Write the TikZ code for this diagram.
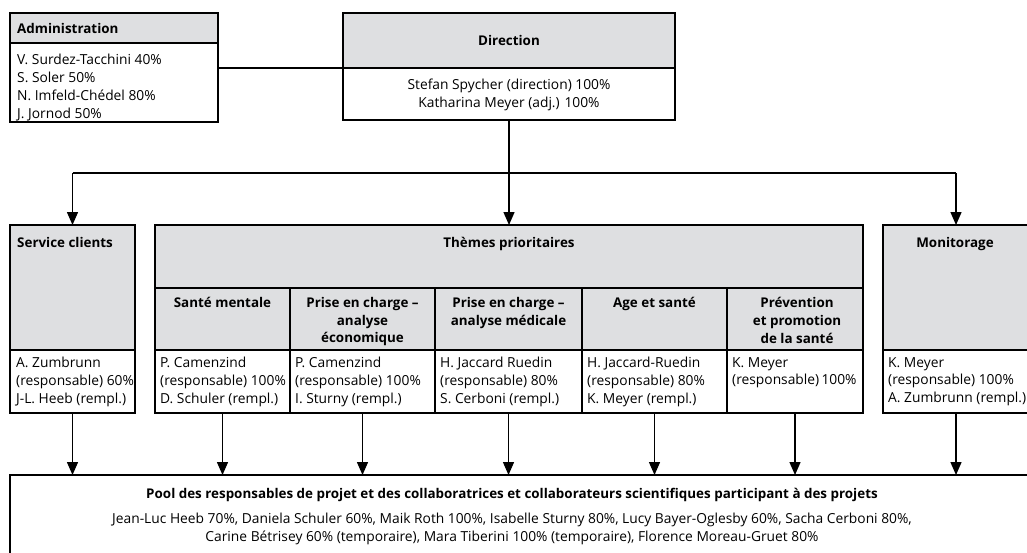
\documentclass[tikz,border=0pt]{standalone}
\usepackage{fontspec}
\setmainfont{Open Sans}
\usetikzlibrary{arrows.meta}
\definecolor{hdr}{RGB}{222,223,225}
\begin{document}
\begin{tikzpicture}[x=1pt,y=-1pt,
  box/.style={draw, line width=1.4pt, inner sep=0pt, outer sep=0pt, anchor=north west},
  hbox/.style={box, fill=hdr},
  wbox/.style={box, fill=white},
  ttl/.style={font=\fontsize{13.4}{17.8}\selectfont\bfseries, inner sep=0pt},
  txt/.style={font=\fontsize{13.8}{17.8}\selectfont, inner sep=0pt},
  arr/.style={line width=1.4pt, -{Triangle[length=13pt,width=11pt]}},
  ln/.style={line width=1.4pt}]
\useasboundingbox (0,0) rectangle (1027,552);
\clip (0,0) rectangle (1027,552);
% Administration
\node[hbox, minimum width=208, minimum height=30] (admh) at (10,13) {};
\node[wbox, minimum width=208, minimum height=79] (admb) at (10,43) {};
\node[ttl, anchor=west] (admt) at (17,28) {Administration};
\node[txt, anchor=north west, align=left] (admx) at (17,54) {V. Surdez-Tacchini 40\%\\S. Soler 50\%\\N. Imfeld-Chédel 80\%\\J. Jornod 50\%};
% Direction
\node[hbox, minimum width=332, minimum height=55] (dirh) at (343,13) {};
\node[wbox, minimum width=332, minimum height=52] (dirb) at (343,68) {};
\node[ttl] (dirt) at (dirh.center) {Direction};
\node[txt, anchor=north, align=center] (dirx) at (509,79) {Stefan Spycher (direction) 100\%\\Katharina Meyer (adj.) 100\%};
% Service clients
\node[hbox, minimum width=125, minimum height=125] (svch) at (10,225) {};
\node[wbox, minimum width=125, minimum height=63] (svcb) at (10,350) {};
\node[ttl, anchor=base west] (svct) at (17,247) {Service clients};
\node[txt, anchor=north west, align=left] (svcx) at (16,357) {A. Zumbrunn\\(responsable) 60\%\\J-L. Heeb (rempl.)};
% Themes prioritaires
\node[hbox, minimum width=708, minimum height=63] (themh) at (155,225) {};
\node[ttl, anchor=base] (themt) at (509,247) {Thèmes prioritaires};
\node[hbox, minimum width=135, minimum height=62] (smh) at (155,288) {};
\node[hbox, minimum width=145, minimum height=62] (ecoh) at (290,288) {};
\node[hbox, minimum width=147, minimum height=62] (medh) at (435,288) {};
\node[hbox, minimum width=145, minimum height=62] (ageh) at (582,288) {};
\node[hbox, minimum width=136, minimum height=62] (prevh) at (727,288) {};
\node[wbox, minimum width=135, minimum height=63] (smb) at (155,350) {};
\node[wbox, minimum width=145, minimum height=63] (ecob) at (290,350) {};
\node[wbox, minimum width=147, minimum height=63] (medb) at (435,350) {};
\node[wbox, minimum width=145, minimum height=63] (ageb) at (582,350) {};
\node[wbox, minimum width=136, minimum height=63] (prevb) at (727,350) {};
\node[ttl, anchor=north, align=center] (smt) at (smh.north |- 0,297) {Santé mentale};
\node[ttl, anchor=north, align=center] (ecot) at (ecoh.north |- 0,297) {Prise en charge –\\analyse\\économique};
\node[ttl, anchor=north, align=center] (medt) at (medh.north |- 0,297) {Prise en charge –\\analyse médicale};
\node[ttl, anchor=north, align=center] (aget) at (ageh.north |- 0,297) {Age et santé};
\node[ttl, anchor=north, align=center] (prevt) at ([xshift=2]prevh.north |- 0,297) {Prévention\\et promotion\\de la santé};
\node[txt, anchor=north west, align=left] (smx) at (160,357) {P. Camenzind\\(responsable) 100\%\\D. Schuler (rempl.)};
\node[txt, anchor=north west, align=left] (ecox) at (295,357) {P. Camenzind\\(responsable) 100\%\\I. Sturny (rempl.)};
\node[txt, anchor=north west, align=left] (medx) at (440,357) {H. Jaccard Ruedin\\(responsable) 80\%\\S. Cerboni (rempl.)};
\node[txt, anchor=north west, align=left] (agex) at (587,357) {H. Jaccard-Ruedin\\(responsable) 80\%\\K. Meyer (rempl.)};
\node[txt, anchor=north west, align=left] (prevx) at (732,357) {K. Meyer\\(responsable)\,100\%};
% Monitorage
\node[hbox, minimum width=146, minimum height=125] (monh) at (883,225) {};
\node[wbox, minimum width=146, minimum height=63] (monb) at (883,350) {};
\node[ttl, anchor=base] (mont) at (955,247) {Monitorage};
\node[txt, anchor=north west, align=left] (monx) at (888,357) {K. Meyer\\(responsable) 100\%\\A. Zumbrunn (rempl.)};
% Pool
\node[wbox, minimum width=1019, minimum height=90] (pool) at (10,475) {};
\node[ttl, anchor=base] (poolt) at (512,498) {Pool des responsables de projet et des collaboratrices et collaborateurs scientifiques participant à des projets};
\node[txt, anchor=north, align=center] (poolx) at (512,513) {Jean-Luc Heeb 70\%, Daniela Schuler 60\%, Maik Roth 100\%, Isabelle Sturny 80\%, Lucy Bayer-Oglesby 60\%, Sacha Cerboni 80\%,\\Carine Bétrisey 60\% (temporaire), Mara Tiberini 100\% (temporaire), Florence Moreau-Gruet 80\%};
% Connectors
\coordinate (bus) at (509,173);
\draw[ln] (admb.east |- dirb.north west) -- (dirb.north west);
\draw[arr] (dirb.south) -- (themh.north);
\draw[ln] (svch.north |- bus) -- (monh.north |- bus);
\draw[arr] (svch.north |- bus) -- (svch.north);
\draw[arr] (monh.north |- bus) -- (monh.north);
\foreach \n in {svcb,smb,ecob,medb,ageb,prevb,monb}{
  \draw[arr] (\n.south) -- (\n.south |- pool.north);
}
\end{tikzpicture}
\end{document}
